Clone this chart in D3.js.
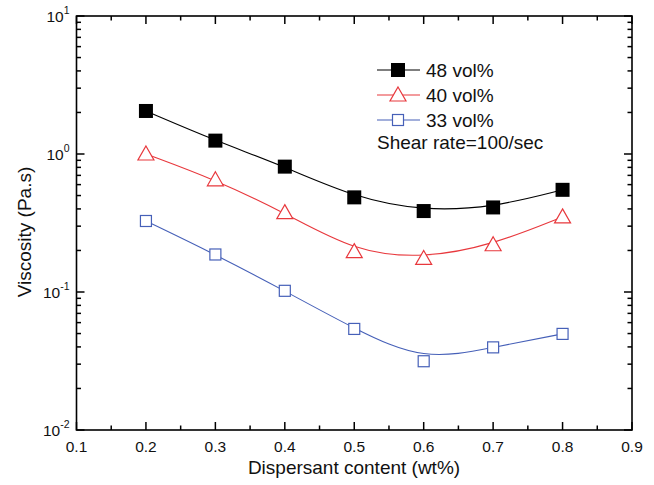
<!DOCTYPE html>
<html>
<head>
<meta charset="utf-8">
<script src="https://cdn.jsdelivr.net/npm/d3@7"></script>
<style>
  body { margin: 0; background: #fff; }
  text { font-family: "Liberation Sans", Arial, sans-serif; fill: #111; }
</style>
</head>
<body>
<div id="chart"></div>
<script>
const content = [0.2, 0.3, 0.4, 0.5, 0.6, 0.7, 0.8];
const vol48 = [2.05, 1.25, 0.81, 0.485, 0.386, 0.41, 0.55];
const vol40 = [1.0, 0.65, 0.376, 0.196, 0.175, 0.22, 0.35];
const vol33 = [0.327, 0.187, 0.102, 0.054, 0.0315, 0.0397, 0.0497];
const seriesNames = ["48 vol%", "40 vol%", "33 vol%"];
const xTicks = [0.1, 0.2, 0.3, 0.4, 0.5, 0.6, 0.7, 0.8, 0.9];
const yExps = [1, 0, -1, -2];

const width = 654, height = 485;
const margin = { top: 16, right: 22, bottom: 55, left: 76.5 };

const svg = d3.select("#chart").append("svg")
  .attr("width", width).attr("height", height);

const x = d3.scaleLinear().domain([0.1, 0.9]).range([margin.left, width - margin.right]);
const y = d3.scaleLog().domain([0.01, 10]).range([height - margin.bottom, margin.top]);

const x0 = margin.left, x1 = width - margin.right, y0 = height - margin.bottom, y1 = margin.top;

// ticks (inward, mirrored on all sides)
const majorX = xTicks;
const minorX = d3.range(0.15, 0.9, 0.1);
const majorY = yExps.map(e => Math.pow(10, e));
const minorY = [];
[-2, -1, 0].forEach(e => { for (let k = 2; k <= 9; k++) minorY.push(k * Math.pow(10, e)); });

const tg = svg.append("g").attr("stroke", "#000").attr("stroke-width", 1.5);
function xt(v, len) {
  tg.append("line").attr("x1", x(v)).attr("x2", x(v)).attr("y1", y0).attr("y2", y0 - len);
  tg.append("line").attr("x1", x(v)).attr("x2", x(v)).attr("y1", y1).attr("y2", y1 + len);
}
function yt(v, len) {
  tg.append("line").attr("y1", y(v)).attr("y2", y(v)).attr("x1", x0).attr("x2", x0 + len);
  tg.append("line").attr("y1", y(v)).attr("y2", y(v)).attr("x1", x1).attr("x2", x1 - len);
}
majorX.forEach(v => xt(v, 8));
minorX.forEach(v => xt(v, 4.5));
majorY.forEach(v => yt(v, 8));
minorY.forEach(v => yt(v, 4.5));

svg.append("rect").attr("x", x0).attr("y", y1).attr("width", x1 - x0).attr("height", y0 - y1)
  .attr("fill", "none").attr("stroke", "#000").attr("stroke-width", 1.6);

// tick labels
svg.append("g").selectAll("text").data(xTicks).join("text")
  .attr("x", d => x(d)).attr("y", y0 + 22)
  .attr("text-anchor", "middle").attr("font-size", 15.5)
  .text(d => d.toFixed(1));

const yl = svg.append("g").selectAll("text").data(yExps).join("text")
  .attr("x", x0 - 7).attr("y", d => y(Math.pow(10, d)) + 6)
  .attr("text-anchor", "end").attr("font-size", 15.5);
yl.append("tspan").text("10");
yl.append("tspan").attr("dy", -8).attr("font-size", 10.5).text(d => d);

// axis titles
svg.append("text").attr("x", 354).attr("y", 474)
  .attr("text-anchor", "middle").attr("font-size", 19).text("Dispersant content (wt%)");
svg.append("text").attr("transform", `translate(31,${232}) rotate(-90)`)
  .attr("text-anchor", "middle").attr("font-size", 19).text("Viscosity (Pa.s)");

// series
const series = [
  { name: seriesNames[0], values: vol48, color: "#000", shape: "filled" },
  { name: seriesNames[1], values: vol40, color: "#e8383d", shape: "tri" },
  { name: seriesNames[2], values: vol33, color: "#4660b8", shape: "sq" }
];

const line = d3.line().curve(d3.curveBasis).x(d => x(d[0])).y(d => y(d[1]));

function marker(g, cx, cy, s) {
  if (s.shape === "filled") {
    g.append("rect").attr("x", cx - 7).attr("y", cy - 7).attr("width", 14).attr("height", 14)
      .attr("fill", "#000");
  } else if (s.shape === "tri") {
    const r = 8;
    g.append("path").attr("d", `M${cx},${cy - r} L${cx + r},${cy + r * 0.75} L${cx - r},${cy + r * 0.75} Z`)
      .attr("fill", "#fff").attr("stroke", s.color).attr("stroke-width", 1.2);
  } else {
    g.append("rect").attr("x", cx - 5.5).attr("y", cy - 5.5).attr("width", 11).attr("height", 11)
      .attr("fill", "#fff").attr("stroke", s.color).attr("stroke-width", 1.2);
  }
}

series.forEach(s => {
  const pts = content.map((c, i) => [c, s.values[i]]);
  svg.append("path").datum(pts).attr("d", line)
    .attr("fill", "none").attr("stroke", s.color).attr("stroke-width", 1.1);
  const g = svg.append("g");
  pts.forEach(p => marker(g, x(p[0]), y(p[1]), s));
});

// legend
const lg = svg.append("g");
series.forEach((s, i) => {
  const ly = 70 + i * 25;
  lg.append("line").attr("x1", 377).attr("x2", 420).attr("y1", ly).attr("y2", ly)
    .attr("stroke", s.color).attr("stroke-width", 1.1);
  marker(lg, 398, ly, s);
  lg.append("text").attr("x", 426).attr("y", ly + 7).attr("font-size", 19).text(s.name);
});
lg.append("text").attr("x", 377).attr("y", 149).attr("font-size", 19).text("Shear rate=100/sec");
</script>
</body>
</html>
